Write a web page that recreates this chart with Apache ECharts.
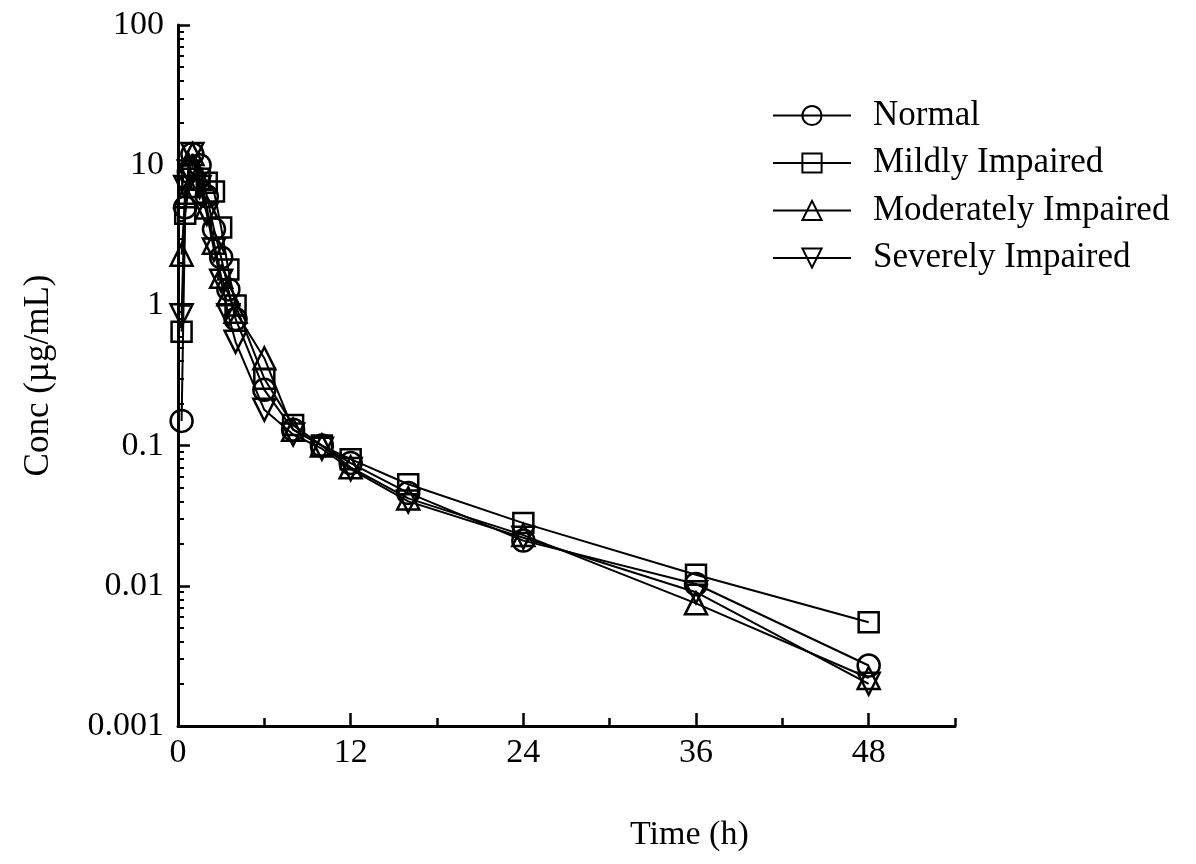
<!DOCTYPE html>
<html>
<head>
<meta charset="utf-8">
<script src="https://cdn.jsdelivr.net/npm/echarts@6/dist/echarts.min.js"></script>
<style>html,body{margin:0;padding:0;background:#fff;}#c{width:1196px;height:864px;}</style>
</head>
<body>
<div id="c"></div>
<script>
var times = [0.25, 0.5, 0.75, 1, 1.5, 2, 2.5, 3, 3.5, 4, 6, 8, 10, 12, 16, 24, 36, 48];
var normal = [0.15, 5, 9, 12, 10, 6, 3.5, 2.2, 1.3, 0.8, 0.25, 0.13, 0.1, 0.075, 0.046, 0.021, 0.0103, 0.0027];
var mildly = [0.65, 4.5, 7, 8, 8, 7.5, 6.5, 3.6, 1.8, 1.0, 0.3, 0.14, 0.1, 0.08, 0.053, 0.028, 0.012, 0.0055];
var moderately = [2.3, 6, 10, 12, 8, 5, 2.8, 1.6, 1.2, 0.9, 0.42, 0.13, 0.1, 0.07, 0.042, 0.023, 0.0075, 0.0022];
var severely = [0.85, 7, 9, 12, 7, 4.5, 2.5, 1.5, 0.85, 0.55, 0.18, 0.12, 0.095, 0.068, 0.04, 0.022, 0.009, 0.002];
var seriesNames = ['Normal', 'Mildly Impaired', 'Moderately Impaired', 'Severely Impaired'];
var xLabels = [0, 12, 24, 36, 48];
var yLabels = [0.001, 0.01, 0.1, 1, 10, 100];
var yMinorTicks = [];
[0.001, 0.01, 0.1, 1, 10].forEach(function (d) {
  for (var k = 2; k <= 9; k++) yMinorTicks.push(+(d * k).toPrecision(3));
});

function pairs(vals) { return times.map(function (t, i) { return [t, vals[i]]; }); }

var font = 'Liberation Serif';
var symbols = [
  { symbol: 'circle', rotate: 0, size: 22 },
  { symbol: 'rect', rotate: 0, size: 20 },
  { symbol: 'triangle', rotate: 0, size: 22 },
  { symbol: 'triangle', rotate: 180, size: 22 }
];
var datasets = [normal, mildly, moderately, severely];

var chart = echarts.init(document.getElementById('c'), null, { renderer: 'canvas' });
var option = {
  animation: false,
  backgroundColor: '#fff',
  textStyle: { fontFamily: font },
  grid: { left: 178, right: 241, top: 25, bottom: 138, containLabel: false },
  legend: {
    orient: 'vertical',
    left: 772,
    top: 98,
    padding: 0,
    itemWidth: 78,
    itemHeight: 24,
    itemGap: 12.5,
    textStyle: { fontFamily: font, fontSize: 35, color: '#000', lineHeight: 34, padding: [0, 0, 0, 17] },
    data: seriesNames
  },
  xAxis: [{
    type: 'value', min: 0, max: 54, interval: 6,
    axisLine: { show: true, lineStyle: { color: '#000', width: 3 } },
    axisTick: { show: true, inside: true, length: 8, lineStyle: { color: '#000', width: 2.5 } },
    axisLabel: {
      margin: 10, fontFamily: font, fontSize: 34, color: '#000',
      formatter: function (v) { return xLabels.indexOf(v) >= 0 ? String(v) : ''; }
    },
    splitLine: { show: false }
  }, {
    type: 'value', min: 0, max: 54, position: 'bottom',
    axisLine: { show: false },
    axisTick: { show: true, inside: true, length: 13, customValues: xLabels, lineStyle: { color: '#000', width: 2.5 } },
    axisLabel: { show: false },
    splitLine: { show: false }
  }],
  yAxis: [{
    type: 'log', logBase: 10, min: 0.001, max: 100,
    name: 'Conc (µg/mL)', nameLocation: 'middle', nameGap: 122,
    nameTextStyle: { fontFamily: font, fontSize: 35, color: '#000' },
    axisLine: { show: true, lineStyle: { color: '#000', width: 3 } },
    axisTick: { show: true, inside: true, length: 12, lineStyle: { color: '#000', width: 2.5 } },
    axisLabel: {
      margin: 14, fontFamily: font, fontSize: 34, color: '#000',
      formatter: function (v) {
        for (var i = 0; i < yLabels.length; i++) {
          if (Math.abs(Math.log10(v) - Math.log10(yLabels[i])) < 1e-6) return String(yLabels[i]);
        }
        return '';
      }
    },
    splitLine: { show: false }
  }, {
    type: 'log', logBase: 10, min: 0.001, max: 100, position: 'left',
    axisLine: { show: false },
    axisTick: { show: true, inside: true, length: 6, customValues: yMinorTicks, lineStyle: { color: '#000', width: 2 } },
    axisLabel: { show: false },
    splitLine: { show: false }
  }],
  graphic: [{
    type: 'text', left: 630, top: 818,
    style: { text: 'Time (h)', font: '34px "Liberation Serif"', fill: '#000' }
  }],
  series: seriesNames.map(function (name, i) {
    return {
      name: name,
      type: 'line',
      xAxisIndex: 0, yAxisIndex: 0,
      data: pairs(datasets[i]),
      color: '#000',
      symbol: symbols[i].symbol,
      symbolRotate: symbols[i].rotate,
      symbolSize: symbols[i].size,
      showAllSymbol: true,
      lineStyle: { color: '#000', width: 2 },
      itemStyle: { color: 'rgba(255,255,255,0)', borderColor: '#000', borderWidth: 2.5 },
      emphasis: { disabled: true }
    };
  })
};
chart.setOption(option);
</script>
</body>
</html>
